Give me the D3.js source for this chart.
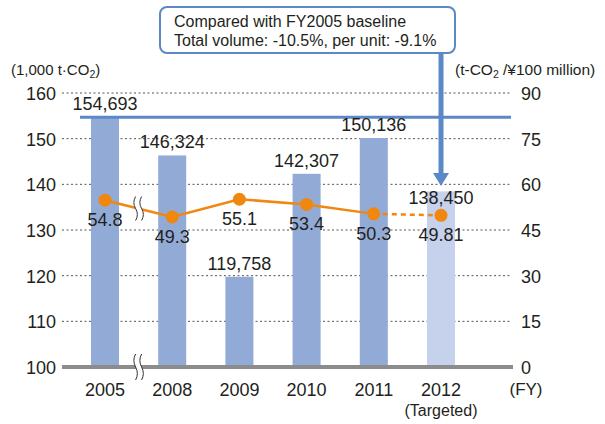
<!DOCTYPE html>
<html><head><meta charset="utf-8">
<script src="https://cdn.jsdelivr.net/npm/d3@7"></script>
<style>body{margin:0;background:#fff}svg{display:block;font-family:"Liberation Sans",Arial,Helvetica,sans-serif}</style>
</head><body><svg id="c" width="605" height="424"></svg>
<script>
const years = ["2005","2008","2009","2010","2011","2012"];
const emissions = [154693,146324,119758,142307,150136,138450]; // t-CO2 (×1,000 on axis)
const intensity = [54.8,49.3,55.1,53.4,50.3,49.81];
const intensityLabels = ["54.8","49.3","55.1","53.4","50.3","49.81"];
const leftTicks = [100,110,120,130,140,150,160];
const rightTicks = [0,15,30,45,60,75,90];
const targeted = [false,false,false,false,false,true];
const noteLines = ["Compared with FY2005 baseline","Total volume: -10.5%, per unit: -9.1%"];

const svg = d3.select("#c");
const textColor = "#231f20", blue = "#5b88c6", orange = "#f0870f";
const x = d3.scaleBand().domain(years).range([71.4,474.6]).paddingInner(0.583).paddingOuter(0.2915);
const yL = d3.scaleLinear().domain([100,160]).range([367,93]);
const yR = d3.scaleLinear().domain([0,90]).range([367,93]);
const gx0 = 62, gx1 = 512;

// gridlines
svg.append("g").selectAll("line").data(leftTicks.filter(d=>d>100)).join("line")
  .attr("x1",gx0).attr("x2",gx1).attr("y1",d=>yL(d)).attr("y2",d=>yL(d))
  .attr("stroke","#555").attr("stroke-width",1).attr("stroke-dasharray","2,2.5");

// bars
svg.append("g").selectAll("rect").data(years).join("rect")
  .attr("x",d=>x(d)).attr("width",x.bandwidth())
  .attr("y",(d,i)=>yL(emissions[i]/1000)).attr("height",(d,i)=>yL(100)-yL(emissions[i]/1000))
  .attr("fill",(d,i)=>targeted[i]?"#c6d1eb":"#92abd6");

// baseline reference line (FY2005 level)
svg.append("line").attr("x1",80).attr("x2",511)
  .attr("y1",yL(emissions[0]/1000)).attr("y2",yL(emissions[0]/1000))
  .attr("stroke",blue).attr("stroke-width",3);

// axis baseline
svg.append("line").attr("x1",gx0).attr("x2",gx1+1).attr("y1",yL(100)).attr("y2",yL(100))
  .attr("stroke","#8c8c8c").attr("stroke-width",4);

// left axis labels
const axL = svg.append("g").attr("transform",`translate(56,0)`)
  .call(d3.axisLeft(yL).tickValues(leftTicks).tickSize(0).tickPadding(0));
axL.select(".domain").remove();
axL.selectAll("text").attr("font-size",18).attr("fill",textColor).attr("dy","0.36em").attr("font-family","Liberation Sans, Arial, sans-serif");

const axR = svg.append("g").attr("transform",`translate(521,0)`)
  .call(d3.axisRight(yR).tickValues(rightTicks).tickSize(0).tickPadding(0));
axR.select(".domain").remove();
axR.selectAll("text").attr("font-size",18).attr("fill",textColor).attr("dy","0.36em").attr("font-family","Liberation Sans, Arial, sans-serif");

// x axis labels
const axX = svg.append("g").attr("transform",`translate(0,${yL(100)})`)
  .call(d3.axisBottom(x).tickSize(0).tickPadding(16));
axX.select(".domain").remove();
axX.selectAll("text").attr("font-size",18).attr("fill",textColor).attr("font-family","Liberation Sans, Arial, sans-serif");
svg.append("text").attr("x",x("2012")+x.bandwidth()/2).attr("y",416).attr("text-anchor","middle")
  .attr("font-size",16).attr("fill",textColor).text("(Targeted)");
svg.append("text").attr("x",526).attr("y",395).attr("text-anchor","middle")
  .attr("font-size",17).attr("fill",textColor).text("(FY)");

// axis titles
const tl = svg.append("text").attr("x",11).attr("y",75).attr("font-size",15).attr("fill",textColor);
tl.append("tspan").text("(1,000 t·CO");
tl.append("tspan").attr("font-size",10.5).attr("dy",3).text("2");
tl.append("tspan").attr("dy",-3).text(")");
const tr = svg.append("text").attr("x",455).attr("y",75).attr("font-size",15.5).attr("fill",textColor);
tr.append("tspan").text("(t-CO");
tr.append("tspan").attr("font-size",10.5).attr("dy",3).text("2");
tr.append("tspan").attr("dy",-3).text(" /¥100 million)");

// intensity line
const cx = d=>x(d)+x.bandwidth()/2;
const pts = years.map((d,i)=>[cx(d),yR(intensity[i])]);
svg.append("path").attr("d",d3.line()(pts.slice(0,5))).attr("fill","none")
  .attr("stroke",orange).attr("stroke-width",2.5);
svg.append("path").attr("d",d3.line()(pts.slice(4))).attr("fill","none")
  .attr("stroke",orange).attr("stroke-width",2.5).attr("stroke-dasharray","5,4");
svg.append("g").selectAll("circle").data(pts).join("circle")
  .attr("cx",d=>d[0]).attr("cy",d=>d[1]).attr("r",6.5).attr("fill",orange);
svg.append("g").selectAll("text").data(years).join("text")
  .attr("x",d=>cx(d)).attr("y",(d,i)=>yR(intensity[i])+26)
  .attr("text-anchor","middle").attr("font-size",18).attr("fill",textColor)
  .text((d,i)=>intensityLabels[i]);

// break marks
function breakMark(bx, by, h){
  const g = svg.append("g");
  const w = 3.5, gap = 6;
  const s = (ox)=>`M${bx+ox},${by-h/2} q${-w},${h/4} 0,${h/2} q${w},${h/4} 0,${h/2}`;
  g.append("path").attr("d",`${s(-gap/2)} L${bx+gap/2},${by+h/2} q${w},${-h/4} 0,${-h/2} q${-w},${-h/4} 0,${-h/2} Z`)
    .attr("fill","#fff");
  [-gap/2,gap/2].forEach(o=>g.append("path").attr("d",s(o)).attr("fill","none").attr("stroke","#333").attr("stroke-width",1));
}
const bxm = (cx("2005")+cx("2008"))/2;
breakMark(bxm, (pts[0][1]+pts[1][1])/2, 24);
breakMark(bxm, yL(100), 26);

// annotation arrow
const ax = cx("2012");
svg.append("line").attr("x1",ax).attr("x2",ax).attr("y1",50).attr("y2",174)
  .attr("stroke",blue).attr("stroke-width",5);
svg.append("path").attr("d",`M${ax-8},173 L${ax+8},173 L${ax},186 Z`).attr("fill",blue);

// bar value labels (targeted bar label sits just inside its top, below the arrow)
svg.append("g").selectAll("text").data(years).join("text")
  .attr("x",d=>x(d)+x.bandwidth()/2).attr("y",(d,i)=>yL(emissions[i]/1000)+(targeted[i]?13:-7))
  .attr("text-anchor","middle").attr("font-size",18).attr("fill",textColor)
  .text((d,i)=>d3.format(",")(emissions[i]));

// annotation box
svg.append("rect").attr("x",160).attr("y",7).attr("width",295).attr("height",46).attr("rx",7)
  .attr("fill","#fff").attr("stroke",blue).attr("stroke-width",2);
svg.append("g").selectAll("text").data(noteLines).join("text")
  .attr("x",174).attr("y",(d,i)=>27+i*19).attr("font-size",16).attr("fill",textColor).text(d=>d);
</script></body></html>
